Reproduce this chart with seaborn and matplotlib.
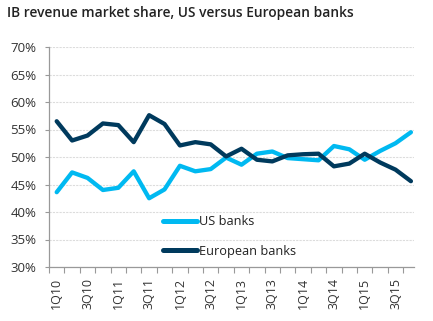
import matplotlib
matplotlib.use("Agg")
import matplotlib.pyplot as plt
import seaborn as sns
import pandas as pd
import numpy as np
from matplotlib.ticker import FixedLocator, FuncFormatter
from matplotlib.lines import Line2D

quarters = [f"{q}Q{y}" for y in range(10, 16) for q in range(1, 5)]
us_banks = [43.6, 47.2, 46.2, 44.0, 44.4, 47.4, 42.5, 44.1, 48.4, 47.4, 47.8, 49.9,
            48.6, 50.6, 51.0, 49.8, 49.6, 49.4, 52.0, 51.4, 49.5, 51.1, 52.5, 54.5]
european_banks = [56.5, 53.0, 53.9, 56.1, 55.8, 52.7, 57.6, 56.0, 52.1, 52.7, 52.3, 50.1,
                  51.5, 49.5, 49.2, 50.3, 50.5, 50.6, 48.3, 48.8, 50.6, 49.0, 47.7, 45.6]
series_names = ["US banks", "European banks"]
colors = ["#00B9F1", "#003A5D"]
tick_labels = quarters[::2]

df = pd.DataFrame({
    "idx": list(range(len(quarters))) * 2,
    "quarter": quarters * 2,
    "share": us_banks + european_banks,
    "series": [series_names[0]] * len(quarters) + [series_names[1]] * len(quarters),
})

sns.set_style("white")
plt.rcParams["font.family"] = ["Open Sans", "DejaVu Sans"]

fig = plt.figure(figsize=(4.33, 3.21), dpi=100)
ax = fig.add_axes([49 / 433, 1 - 267 / 321, (414 - 49) / 433, 220 / 321])

sns.lineplot(data=df, x="idx", y="share", hue="series", palette=colors,
             hue_order=series_names, linewidth=3.1, ax=ax, legend=False)

ax.set_ylim(30, 70)
ax.set_xlim(-0.5, 23.2)
ax.set_yticks(np.arange(30, 71, 5))
ax.yaxis.set_major_formatter(FuncFormatter(lambda v, p: f"{v:.0f}%"))
ax.set_xticks(range(0, len(quarters), 2))
ax.set_xticklabels(tick_labels, rotation=90)
ax.xaxis.set_minor_locator(FixedLocator(np.arange(-0.5, 23, 1.0)))
ax.tick_params(axis="x", which="major", length=0, pad=8, labelsize=9, colors="#333333")
ax.tick_params(axis="x", which="minor", length=4, width=0.8, color="#999999", direction="out", bottom=True)
ax.tick_params(axis="y", which="major", length=3, width=0.8, color="#999999", pad=6,
               labelsize=9.5, labelcolor="#333333", left=True)
ax.set_xlabel("")
ax.set_ylabel("")

ax.grid(axis="y", color="#dcdcdc", linestyle=(0, (2, 1)), linewidth=0.8)
ax.grid(axis="x", visible=False)
ax.set_axisbelow(True)
for s in ["top", "right"]:
    ax.spines[s].set_visible(False)
for s in ["left", "bottom"]:
    ax.spines[s].set_color("#999999")
    ax.spines[s].set_linewidth(0.9)

handles = [Line2D([], [], color=c, linewidth=3.6, solid_capstyle="round") for c in colors]
leg = ax.legend(handles, series_names, loc="center left", bbox_to_anchor=(0.312, 0.138),
                frameon=False, fontsize=9.2, handlelength=2.7, handletextpad=0.15,
                labelspacing=1.3, borderpad=0, borderaxespad=0)
for t in leg.get_texts():
    t.set_color("#222222")

fig.text(7 / 433, 1 - 6 / 321, "IB revenue market share, US versus European banks",
         ha="left", va="top", fontsize=9.9, fontweight="semibold", color="#222222")

fig.savefig("out.png", dpi=100, facecolor="white")
